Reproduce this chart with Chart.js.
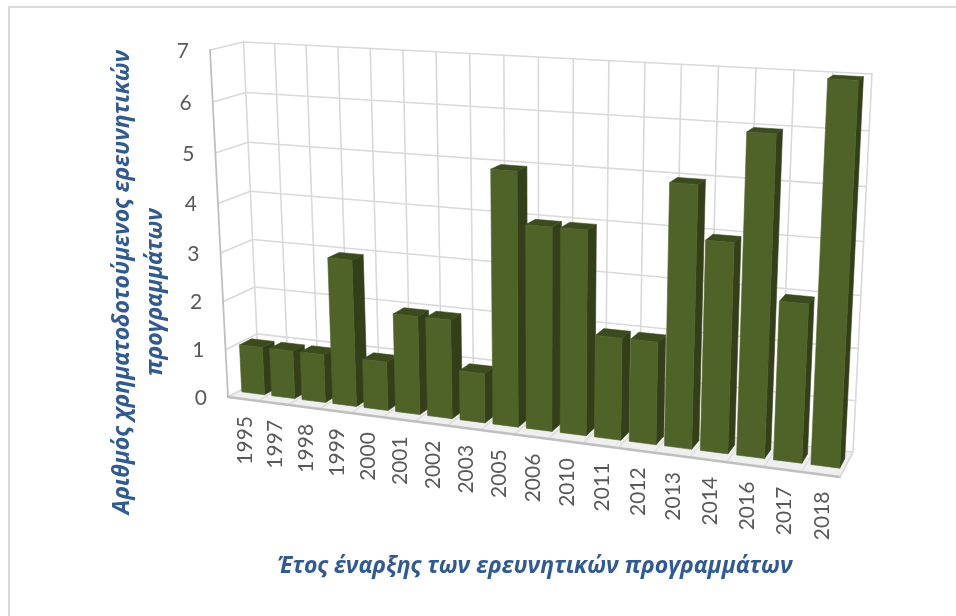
<!DOCTYPE html>
<html>
<head>
<meta charset="utf-8">
<style>
  html, body { margin: 0; padding: 0; background: #fff; }
  canvas { display: block; }
</style>
<script src="https://cdn.jsdelivr.net/npm/chart.js@4/dist/chart.umd.min.js"></script>
</head>
<body>
<canvas id="grafico" width="956" height="616"></canvas>
<script>
const categories = ['1995','1997','1998','1999','2000','2001','2002','2003','2005','2006','2010','2011','2012','2013','2014','2016','2017','2018'];
const seriesValues = [1,1,1,3,1,2,2,1,5,4,4,2,2,5,4,6,3,7];
const yMax = 7;
const xTitle = 'Έτος έναρξης των ερευνητικών προγραμμάτων';
const yTitleLines = ['Αριθμός χρηματοδοτούμενος ερευνητικών', 'προγραμμάτων'];

// Esquinas del "cubo" 3D: cada cuadro va bl, br, tr, tl
const frontQuad = [[228,397],[840,477],[859,84],[210,50]];
const backQuad = [[259,380],[853,452],[872,74],[243.5,42]];
const barDepthFront = 0.33;
const barDepthBack = 0.71;

const colFront = '#4f6228';
const colSide = '#333f18';
const colTop = '#3c4b1e';
const colGrid = '#d9d9d9';
const colEdge = '#bfbfbf';
const colFloor = '#efefef';
const colTick = '#595959';
const colTitle = '#2f5a94';
const tickFont = '21px Lato, "Open Sans", sans-serif';
const titleFont = 'italic bold 23px "Open Sans", sans-serif';

// Homografia del cuadrado unidad al cuadro dado
function makeHomography(q){
  const [[x0,y0],[x1,y1],[x2,y2],[x3,y3]] = q;
  const dx1 = x1-x2, dx2 = x3-x2, sx = x0-x1+x2-x3;
  const dy1 = y1-y2, dy2 = y3-y2, sy = y0-y1+y2-y3;
  const den = dx1*dy2 - dx2*dy1;
  const g = (sx*dy2 - dx2*sy)/den;
  const h = (dx1*sy - sx*dy1)/den;
  const a = x1-x0+g*x1, b = x3-x0+h*x3;
  const d = y1-y0+g*y1, e = y3-y0+h*y3;
  return (u,v) => {
    const w = g*u + h*v + 1;
    return [(a*u + b*v + x0)/w, (d*u + e*v + y0)/w];
  };
}
const hFront = makeHomography(frontQuad);
const hBack = makeHomography(backQuad);

// Pasa un pixel plano de las escalas (x,y) y una profundidad a la pantalla
function project(chart, x, y, depth){
  const area = chart.chartArea;
  const u = (x-area.left)/area.width;
  const v = (area.bottom-y)/area.height;
  const f = hFront(u,v), b = hBack(u,v);
  return [f[0]+(b[0]-f[0])*depth, f[1]+(b[1]-f[1])*depth];
}

function poly(ctx, pts){
  ctx.beginPath();
  pts.forEach((p,i) => i ? ctx.lineTo(p[0],p[1]) : ctx.moveTo(p[0],p[1]));
}
function fillPoly(ctx, pts, color){
  poly(ctx, pts);
  ctx.closePath();
  ctx.fillStyle = color;
  ctx.fill();
  // evita costuras claras entre caras
  ctx.strokeStyle = color;
  ctx.lineWidth = 0.6;
  ctx.stroke();
}
function strokeLine(ctx, a, b, color, width){
  poly(ctx, [a,b]);
  ctx.strokeStyle = color;
  ctx.lineWidth = width;
  ctx.stroke();
}

const box3d = {
  id: 'box3d',
  beforeDraw(chart){
    const ctx = chart.ctx;
    ctx.save();
    ctx.fillStyle = '#fff';
    ctx.fillRect(0,0,chart.width,chart.height);
    ctx.fillStyle = colGrid;
    ctx.fillRect(8,6,chart.width-8,2);
    ctx.fillRect(8,6,2,chart.height-6);
    ctx.restore();
  },
  beforeDatasetsDraw(chart){
    const ctx = chart.ctx, area = chart.chartArea;
    const xs = chart.scales.x, ys = chart.scales.y;
    const L = area.left, R = area.right, B = area.bottom, T = area.top;
    const step = area.width/categories.length;
    ctx.save();
    ctx.lineCap = 'round';

    // suelo
    fillPoly(ctx, [project(chart,L,B,0),project(chart,R,B,0),project(chart,R,B,1),project(chart,L,B,1)], colFloor);

    // lineas horizontales: pared de fondo y pared izquierda
    ys.ticks.forEach(t => {
      const y = ys.getPixelForValue(t.value);
      strokeLine(ctx, project(chart,L,y,1), project(chart,R,y,1), colGrid, 1.6);
      strokeLine(ctx, project(chart,L,y,0), project(chart,L,y,1), colGrid, 1.6);
    });
    // lineas verticales y marcas del suelo
    for (let i = 0; i <= categories.length; i++){
      const x = i < categories.length ? xs.getPixelForValue(i)-step/2 : R;
      strokeLine(ctx, project(chart,x,T,1), project(chart,x,B,1), colGrid, 1.6);
      strokeLine(ctx, project(chart,x,B,0), project(chart,x,B,1), '#dcdcdc', 1.4);
    }
    // aristas
    strokeLine(ctx, project(chart,L,T,0), project(chart,L,B,0), colEdge, 1.8);
    strokeLine(ctx, project(chart,L,B,0), project(chart,R,B,0), colEdge, 2.4);
    strokeLine(ctx, project(chart,R,B,0), project(chart,R,B,1), colGrid, 1.6);
    ctx.restore();
  },
  beforeDatasetDraw(chart, args){
    const ctx = chart.ctx;
    ctx.save();
    ctx.lineJoin = 'round';
    args.meta.data.forEach(bar => {
      const { x, y, base, width } = bar.getProps(['x','y','base','width'], true);
      const xl = x-width/2, xr = x+width/2;
      const P = (px,py,d) => project(chart,px,py,d);
      const d0 = barDepthFront, d1 = barDepthBack;
      fillPoly(ctx, [P(xr,base,d0),P(xr,base,d1),P(xr,y,d1),P(xr,y,d0)], colSide);
      fillPoly(ctx, [P(xl,y,d0),P(xr,y,d0),P(xr,y,d1),P(xl,y,d1)], colTop);
      fillPoly(ctx, [P(xl,base,d0),P(xr,base,d0),P(xr,y,d0),P(xl,y,d0)], bar.options.backgroundColor);
    });
    ctx.restore();
    return false; // ya dibujado en 3D
  },
  afterDatasetsDraw(chart){
    const ctx = chart.ctx, area = chart.chartArea;
    const xs = chart.scales.x, ys = chart.scales.y;
    ctx.save();
    ctx.font = tickFont;
    ctx.fillStyle = colTick;

    ctx.textAlign = 'right';
    ctx.textBaseline = 'middle';
    ys.ticks.forEach(t => {
      const p = project(chart, area.left, ys.getPixelForValue(t.value), 0);
      ctx.fillText(String(t.value), p[0]-21, p[1]+1);
    });

    categories.forEach((label,i) => {
      const p = project(chart, xs.getPixelForValue(i), area.bottom, 0);
      ctx.save();
      ctx.translate(p[0]+2, p[1]+17);
      ctx.rotate(-Math.PI/2);
      ctx.fillText(label, 0, 0);
      ctx.restore();
    });

    ctx.font = titleFont;
    ctx.fillStyle = colTitle;
    ctx.textAlign = 'center';
    ctx.fillText(xTitle, 535, 566);
    yTitleLines.forEach((line,i) => {
      ctx.save();
      ctx.translate(122+i*33, 282+(i ? 10 : 0));
      ctx.rotate(-Math.PI/2);
      ctx.fillText(line, 0, 0);
      ctx.restore();
    });
    ctx.restore();
  }
};

new Chart(document.getElementById('grafico').getContext('2d'), {
  type: 'bar',
  data: {
    labels: categories,
    datasets: [{ data: seriesValues, backgroundColor: colFront, barPercentage: 0.76, categoryPercentage: 1 }]
  },
  options: {
    responsive: false,
    animation: false,
    events: [],
    layout: { padding: 0 },
    plugins: { legend: { display: false }, tooltip: { enabled: false } },
    scales: {
      x: { display: false },
      y: { display: false, min: 0, max: yMax, ticks: { stepSize: 1 } }
    }
  },
  plugins: [box3d]
});
</script>
</body>
</html>
